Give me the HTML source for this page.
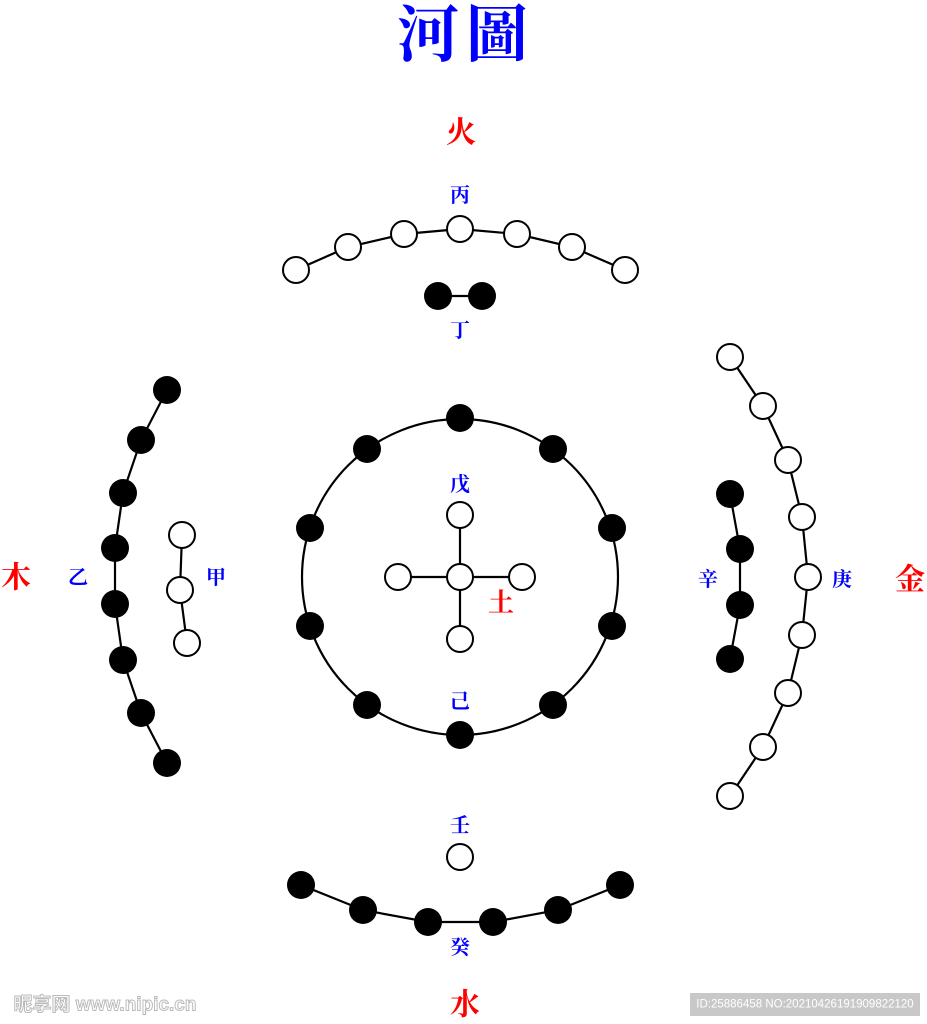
<!DOCTYPE html>
<html><head><meta charset="utf-8"><style>
body{margin:0;width:927px;height:1024px;background:#fff;overflow:hidden}
svg{display:block}
text{font-family:"Liberation Serif","Noto Serif CJK SC",serif;text-anchor:middle;dominant-baseline:central}
.b{fill:#0000ff;font-size:20px;font-weight:bold}
.r{fill:#ff0000;font-size:30px;font-weight:bold}
.w{fill:#fff;stroke:#000;stroke-width:2}
.k{fill:#000}
.l{fill:none;stroke:#000;stroke-width:2.2}
</style></head><body>
<svg width="927" height="1024" viewBox="0 0 927 1024">
<text x="428" y="36" style="fill:#0000ff;font-size:62px;font-weight:bold">河</text>
<text x="497" y="36" style="fill:#0000ff;font-size:62px;font-weight:bold">圖</text>
<text class="r" x="461" y="133">火</text>
<text class="b" x="460" y="196">丙</text>
<text class="b" x="460" y="331">丁</text>
<polyline class="l" points="296,270 348,247 404,234 460,229 517,234 572,247 625,270"/>
<circle class="w" cx="296" cy="270" r="13"/><circle class="w" cx="348" cy="247" r="13"/><circle class="w" cx="404" cy="234" r="13"/><circle class="w" cx="460" cy="229" r="13"/><circle class="w" cx="517" cy="234" r="13"/><circle class="w" cx="572" cy="247" r="13"/><circle class="w" cx="625" cy="270" r="13"/>
<line class="l" x1="438" y1="296" x2="482" y2="296"/>
<circle class="k" cx="438" cy="296" r="14"/><circle class="k" cx="482" cy="296" r="14"/>

<circle class="l" cx="460" cy="577" r="158"/>
<g class="k">
<circle cx="460" cy="418" r="14"/><circle cx="367" cy="449" r="14"/><circle cx="553" cy="449" r="14"/><circle cx="310" cy="528" r="14"/><circle cx="612" cy="528" r="14"/><circle cx="310" cy="626" r="14"/><circle cx="612" cy="626" r="14"/><circle cx="367" cy="705" r="14"/><circle cx="553" cy="705" r="14"/><circle cx="460" cy="735" r="14"/>
</g>
<line class="l" x1="460" y1="515" x2="460" y2="639"/><line class="l" x1="398" y1="577" x2="522" y2="577"/>
<circle class="w" cx="460" cy="515" r="13"/><circle class="w" cx="398" cy="577" r="13"/><circle class="w" cx="460" cy="577" r="13"/><circle class="w" cx="522" cy="577" r="13"/><circle class="w" cx="460" cy="639" r="13"/>
<text class="b" x="460" y="485">戊</text>
<text class="b" x="460" y="702">己</text>
<text x="501" y="603" style="fill:#ff0000;font-size:26px;font-weight:bold">土</text>

<polyline class="l" points="167,390 141,440 123,493 115,548 115,604 123,660 141,713 167,763"/>
<g class="k"><circle cx="167" cy="390" r="14"/><circle cx="141" cy="440" r="14"/><circle cx="123" cy="493" r="14"/><circle cx="115" cy="548" r="14"/><circle cx="115" cy="604" r="14"/><circle cx="123" cy="660" r="14"/><circle cx="141" cy="713" r="14"/><circle cx="167" cy="763" r="14"/></g>
<polyline class="l" points="182,535 180,590 187,643"/>
<circle class="w" cx="182" cy="535" r="13"/><circle class="w" cx="180" cy="590" r="13"/><circle class="w" cx="187" cy="643" r="13"/>
<text class="b" x="216" y="578">甲</text>
<text class="b" x="78" y="578">乙</text>
<text class="r" x="16" y="578">木</text>

<polyline class="l" points="730,357 763,406 788,460 802,517 808,577 802,635 788,693 763,747 730,796"/>
<circle class="w" cx="730" cy="357" r="13"/><circle class="w" cx="763" cy="406" r="13"/><circle class="w" cx="788" cy="460" r="13"/><circle class="w" cx="802" cy="517" r="13"/><circle class="w" cx="808" cy="577" r="13"/><circle class="w" cx="802" cy="635" r="13"/><circle class="w" cx="788" cy="693" r="13"/><circle class="w" cx="763" cy="747" r="13"/><circle class="w" cx="730" cy="796" r="13"/>
<polyline class="l" points="730,494 740,549 740,605 730,659"/>
<g class="k"><circle cx="730" cy="494" r="14"/><circle cx="740" cy="549" r="14"/><circle cx="740" cy="605" r="14"/><circle cx="730" cy="659" r="14"/></g>
<text class="b" x="708" y="580">辛</text>
<text class="b" x="842" y="580">庚</text>
<text class="r" x="910" y="580">金</text>

<polyline class="l" points="301,885 363,910 428,922 493,922 558,910 620,885"/>
<g class="k"><circle cx="301" cy="885" r="14"/><circle cx="363" cy="910" r="14"/><circle cx="428" cy="922" r="14"/><circle cx="493" cy="922" r="14"/><circle cx="558" cy="910" r="14"/><circle cx="620" cy="885" r="14"/></g>
<circle class="w" cx="460" cy="857" r="13"/>
<text class="b" x="460" y="826">壬</text>
<text class="b" x="460" y="948">癸</text>
<text class="r" x="465" y="1005">水</text>

<text x="105" y="1005" style="font-family:'Liberation Sans','Noto Sans CJK SC',sans-serif;font-size:19px;fill:#fff;stroke:#bbb;stroke-width:1;font-weight:bold">昵享网 www.nipic.cn</text>
<rect x="690" y="993" width="230" height="23" fill="#c8c8c8"/>
<text x="805" y="1004.5" style="font-family:'Liberation Sans',sans-serif;font-size:11.5px;fill:#fff">ID:25886458 NO:20210426191909822120</text>
</svg>
</body></html>
